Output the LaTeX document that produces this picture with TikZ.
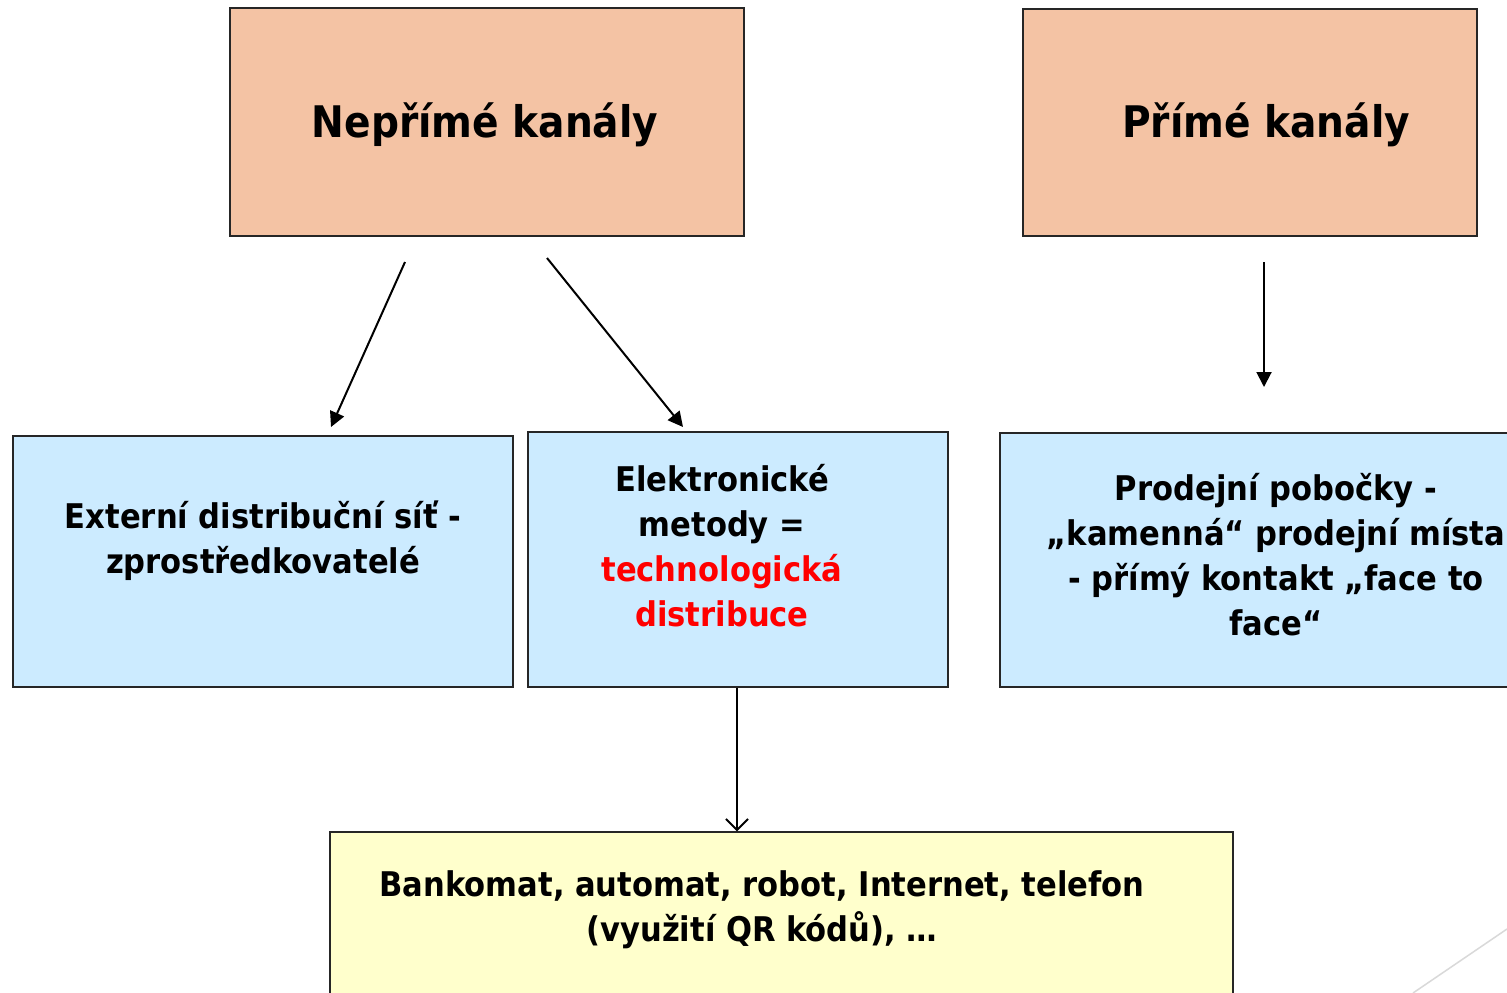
\documentclass[tikz,border=0pt]{standalone}
\usepackage{fontspec}
\setmainfont{DejaVu Sans Condensed}
\usetikzlibrary{arrows.meta}
\definecolor{salmon}{HTML}{F4C3A4}
\definecolor{skyfill}{HTML}{CCEBFF}
\definecolor{creamfill}{HTML}{FFFFCC}
\definecolor{hilite}{HTML}{FF0000}
\definecolor{decoline}{HTML}{D9D9D9}
\tikzset{
  box/.style={draw=black!85, line width=1.5pt, rectangle, inner sep=0pt},
  headtxt/.style={font=\bfseries\fontsize{43.5}{50}\selectfont, align=center, inner sep=0pt},
  bodytxt/.style={font=\bfseries\fontsize{34}{45}\selectfont, align=center, inner sep=0pt},
  fullarrow/.style={line width=2pt, -{Triangle[length=15pt,width=15pt]}},
  openarrow/.style={line width=1.8pt, -{Straight Barb[length=11pt,width=22pt,line width=1.8pt]}},
}
\begin{document}
\begin{tikzpicture}[x=1pt,y=-1pt]
\useasboundingbox (0,0) rectangle (1507,993);
\clip (0,0) rectangle (1507,993);
\fill[white] (0,0) rectangle (1507,993);

% top-level channel boxes
\node[box, fill=salmon, minimum width=514pt, minimum height=228pt] (nep) at (487,122) {};
\node[box, fill=salmon, minimum width=454pt, minimum height=227pt] (prim) at (1250,122.5) {};
\node[headtxt] (neptxt) at (485,125) {Nepřímé kanály};
\node[headtxt] (primtxt) at (1266,125) {Přímé kanály};

% second level
\node[box, fill=skyfill, minimum width=500pt, minimum height=251pt] (ext) at (263,561.5) {};
\node[box, fill=skyfill, minimum width=420pt, minimum height=255pt] (ele) at (738,559.5) {};
\node[box, fill=skyfill, minimum width=560pt, minimum height=254pt] (pob) at (1280,560) {};
\node[bodytxt] (exttxt) at (263,541) {Externí distribuční síť -\\zprostředkovatelé};
\node[bodytxt] (eletxt) at (722,546) {Elektronické\\metody =\\\textcolor{hilite}{technologická}\\\textcolor{hilite}{distribuce}};
\node[bodytxt] (pobtxt) at (1276,555) {Prodejní pobočky -\\„kamenná“ prodejní místa\\- přímý kontakt „face to\\face“};

% technology box
\node[box, fill=creamfill, minimum width=903pt, minimum height=200pt] (tech) at (781.5,932) {};
\node[bodytxt] (techtxt) at (762,910) {Bankomat, automat, robot, Internet, telefon\\(využití QR kódů), …};

% connectors
\coordinate (a1s) at (405,262);
\coordinate (a1e) at (331,427);
\coordinate (a2s) at (547,258);
\coordinate (a2e) at (683,427);
\coordinate (a3s) at (1264,262);
\coordinate (a3e) at (1264,387);
\draw[fullarrow] (a1s) -- (a1e);
\draw[fullarrow] (a2s) -- (a2e);
\draw[fullarrow] (a3s) -- (a3e);
\draw[openarrow] (ele.south -| 737,0) -- (tech.north -| 737,0);

% decorative corner line
\coordinate (d1) at (1413,993);
\coordinate (d2) at (1507,929);
\draw[decoline, line width=1.5pt] (d1) -- (d2);
\end{tikzpicture}
\end{document}
